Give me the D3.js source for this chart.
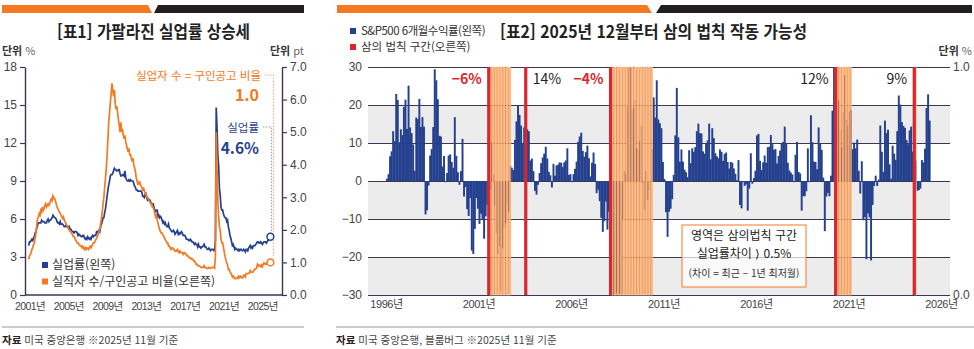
<!DOCTYPE html>
<html lang="ko">
<head>
<meta charset="utf-8">
<title>실업률과 삼의 법칙</title>
<script src="https://cdn.jsdelivr.net/npm/d3@7"></script>
<style>
body{margin:0;background:#fff;}
text{font-family:"Noto Sans CJK KR","Noto Sans",sans-serif;}
.num text, text.num{font-family:"Liberation Sans Narrow","Liberation Sans","Noto Sans CJK KR",sans-serif;}
</style>
</head>
<body>
<script>
// ---- left chart: monthly, starting Dec 2000 ----
var leftStart = [2000, 12];
var unempRate = [3.9,
 4.2,4.2,4.3,4.4,4.3,4.5,4.6,4.9,5.0,5.3,5.5,5.7,
 5.7,5.7,5.7,5.9,5.8,5.8,5.8,5.7,5.7,5.7,5.9,6.0,
 5.8,5.9,5.9,6.0,6.1,6.3,6.2,6.1,6.1,6.0,5.8,5.7,
 5.7,5.6,5.8,5.6,5.6,5.6,5.5,5.4,5.4,5.5,5.4,5.4,
 5.3,5.4,5.2,5.2,5.1,5.0,5.0,4.9,5.0,5.0,5.0,4.9,
 4.7,4.8,4.7,4.7,4.6,4.6,4.7,4.7,4.5,4.4,4.5,4.4,
 4.6,4.5,4.4,4.5,4.4,4.6,4.7,4.6,4.7,4.7,4.7,5.0,
 5.0,4.9,5.1,5.0,5.4,5.6,5.8,6.1,6.1,6.5,6.8,7.3,
 7.8,8.3,8.7,9.0,9.4,9.5,9.5,9.6,9.8,10.0,9.9,9.9,
 9.8,9.8,9.9,9.9,9.6,9.4,9.4,9.5,9.5,9.4,9.8,9.3,
 9.1,9.0,9.0,9.1,9.0,9.1,9.0,9.0,9.0,8.8,8.6,8.5,
 8.3,8.3,8.2,8.2,8.2,8.2,8.2,8.1,7.8,7.8,7.7,7.9,
 8.0,7.7,7.5,7.6,7.5,7.5,7.3,7.2,7.2,7.2,6.9,6.7,
 6.6,6.7,6.7,6.2,6.3,6.1,6.2,6.1,5.9,5.7,5.8,5.6,
 5.7,5.5,5.4,5.4,5.6,5.3,5.2,5.1,5.0,5.0,5.1,5.0,
 4.8,4.9,5.0,5.1,4.8,4.9,4.8,4.9,5.0,4.9,4.7,4.7,
 4.7,4.6,4.4,4.4,4.4,4.3,4.3,4.4,4.3,4.2,4.2,4.1,
 4.0,4.1,4.0,4.0,3.8,4.0,3.8,3.8,3.7,3.8,3.8,3.9,
 4.0,3.8,3.8,3.7,3.6,3.6,3.7,3.6,3.5,3.6,3.6,3.6,
 3.5,3.5,4.4,14.8,13.2,11.0,10.2,8.4,7.8,6.9,6.7,6.7,
 6.4,6.2,6.1,6.1,5.8,5.9,5.4,5.1,4.7,4.5,4.2,3.9,
 4.0,3.8,3.6,3.7,3.6,3.6,3.5,3.6,3.5,3.6,3.6,3.5,
 3.5,3.6,3.5,3.4,3.6,3.6,3.5,3.7,3.8,3.9,3.7,3.8,
 3.7,3.9,3.9,3.9,4.0,4.1,4.2,4.2,4.1,4.1,4.2,4.1,
 4.0,4.1,4.2,4.2,4.2,4.1,4.2,4.3,4.4,4.5,4.6];

var jobRatio = [1.1,
 1.2,1.25,1.3,1.4,1.45,1.55,1.6,1.75,1.9,2.15,2.35,2.4,
 2.5,2.45,2.6,2.55,2.7,2.6,2.65,2.75,2.8,2.7,2.75,2.8,
 2.75,2.8,2.9,2.95,2.9,3.05,3.0,2.95,2.9,2.8,2.7,2.65,
 2.6,2.55,2.5,2.45,2.4,2.35,2.4,2.3,2.25,2.2,2.15,2.1,
 2.05,2.0,1.95,1.95,1.9,1.85,1.8,1.8,1.75,1.7,1.65,1.6,
 1.6,1.55,1.55,1.5,1.5,1.45,1.5,1.45,1.4,1.45,1.4,1.45,
 1.45,1.4,1.45,1.5,1.45,1.5,1.55,1.6,1.6,1.65,1.7,1.75,
 1.8,1.85,1.95,2.0,2.2,2.35,2.55,2.8,3.0,3.3,3.6,3.9,
 4.3,4.8,5.3,5.6,5.9,6.2,6.5,6.3,6.1,6.3,5.9,5.7,
 5.8,5.6,5.4,5.2,5.0,5.3,5.0,5.1,4.9,4.8,4.9,4.7,
 4.6,4.5,4.4,4.5,4.3,4.3,4.2,4.1,4.2,4.0,3.9,3.8,
 3.6,3.5,3.4,3.4,3.5,3.4,3.35,3.3,3.2,3.3,3.2,3.1,
 3.1,3.0,3.0,2.95,2.9,2.85,2.8,2.8,2.7,2.7,2.6,2.5,
 2.4,2.45,2.3,2.2,2.1,2.0,1.95,1.9,1.9,1.85,1.8,1.75,
 1.7,1.65,1.6,1.6,1.5,1.5,1.45,1.4,1.45,1.45,1.4,1.4,
 1.35,1.35,1.35,1.4,1.35,1.3,1.35,1.3,1.3,1.3,1.25,1.3,
 1.3,1.25,1.25,1.2,1.2,1.15,1.15,1.15,1.1,1.1,1.1,1.05,
 1.05,1.0,0.95,0.95,0.9,0.9,0.9,0.87,0.85,0.85,0.85,0.85,
 0.9,0.85,0.85,0.82,0.82,0.82,0.85,0.83,0.82,0.83,0.84,0.86,
 0.86,0.83,1.18,5.0,3.9,2.9,2.4,2.1,1.95,1.7,1.6,1.6,
 1.46,1.3,1.17,1.07,0.98,0.93,0.78,0.79,0.71,0.67,0.63,0.55,
 0.58,0.55,0.5,0.5,0.52,0.54,0.51,0.58,0.54,0.58,0.55,0.52,
 0.54,0.61,0.6,0.56,0.66,0.66,0.65,0.67,0.67,0.75,0.71,0.7,
 0.69,0.74,0.76,0.8,0.8,0.83,0.94,0.89,0.92,0.9,0.87,0.92,
 0.87,0.93,0.99,0.97,0.94,0.95,1.0,1.03,1.0,1.0,1.0];
var leftYearTicks = [2001, 2005, 2009, 2013, 2017, 2021, 2025];

// ---- right chart: S&P500 6-month return, monthly from Jan 1996 ----
var rightStart = [1996, 1];
var spReturn = [
 0.6,1.8,6.5,7.8,13.1,10.5,22.9,21.3,10.2,13.6,12.1,19.5,
 21.4,13.7,25.1,14.1,12.6,9.6,2.7,16.7,16.3,21.6,14.2,16.8,
 14.3,-8.8,-7.7,-1.2,6.7,8.4,14.2,29.4,26.5,21.5,11.9,11.7,
 3.8,6.6,-0.3,2.1,6.7,7.0,5.0,3.5,16.8,6.6,2.3,-1.0,
 2.6,11.1,-4.1,-1.6,-7.4,-9.2,-4.5,-18.3,-19.2,-12.6,-4.5,-7.3,
 -11.3,-8.6,-10.3,-15.2,-9.3,-6.2,-6.7,-2.4,10.2,1.6,-6.4,-13.8,
 -19.3,-17.2,-28.9,-17.7,-12.3,-11.1,-6.1,-8.2,4.0,3.5,2.9,10.8,
 15.7,19.8,17.4,14.6,9.8,14.1,14.2,13.6,13.1,5.4,5.9,2.6,
 -2.6,-3.6,-1.0,2.1,4.7,6.2,7.2,9.0,5.9,2.4,1.5,-1.7,
 4.5,1.4,4.1,4.3,4.9,4.8,3.7,4.9,5.4,8.6,1.6,1.8,
 -0.3,1.8,3.2,5.1,10.3,11.7,12.7,7.9,6.4,7.6,9.3,6.0,
 1.2,4.8,7.5,4.5,-3.2,-2.3,-5.3,-9.7,-13.4,-10.6,-5.4,-12.8,
 -8.1,-3.6,-11.8,-30.1,-36.0,-29.4,-34.8,-42.7,-31.6,-9.9,2.6,1.8,
 19.6,38.8,32.5,18.7,19.2,21.3,8.7,8.2,10.6,14.5,-0.6,-7.6,
 2.6,-5.0,-2.4,-0.3,8.4,22.0,16.7,26.5,16.2,15.2,13.9,5.0,
 0.5,-8.2,-14.7,-8.1,-7.3,-4.8,1.6,12.0,24.5,11.5,5.1,8.3,
 5.1,3.0,2.3,1.0,8.1,4.7,8.6,7.7,8.9,13.1,15.1,12.6,
 12.5,7.8,7.2,9.9,10.7,15.1,5.7,13.9,11.3,7.3,6.5,6.0,
 8.3,7.7,5.3,7.1,7.5,5.0,3.3,5.0,4.8,3.3,1.9,0.2,
 5.5,-6.3,-7.2,-0.3,-1.3,-0.9,-7.8,-2.0,7.3,-0.7,0.8,2.7,
 12.0,12.4,5.3,2.9,4.9,6.7,4.8,8.9,9.0,12.1,9.7,8.2,
 8.4,4.6,6.6,8.0,9.8,10.3,14.3,9.8,4.8,2.8,2.2,1.7,
 -0.3,6.9,10.3,2.4,2.0,-7.8,-4.0,-4.0,-2.7,8.6,-0.3,17.3,
 10.2,5.1,5.0,3.1,14.1,9.8,8.2,0.9,-13.2,-4.1,-3.1,-4.0,
 1.4,18.5,30.1,12.3,19.0,21.2,13.5,8.9,18.1,27.9,16.1,14.4,
 18.3,18.7,8.4,10.1,8.6,10.9,2.7,-3.3,5.2,-10.3,-9.5,-20.6,
 -8.5,-9.6,-20.9,-6.3,-1.3,1.4,-1.3,0.4,14.6,7.7,2.4,15.9,
 12.6,13.5,4.4,0.6,9.3,7.2,5.6,13.1,22.5,20.1,15.5,14.5,
 14.0,10.8,9.7,13.3,14.3,7.7,9.4,5.4,-2.6,-2.4,-2.0,5.5,
 4.9,8.5,19.2,22.8,15.9];

// Sahm rule: trigger months (red) and months above threshold (orange)
var sahmTrigger = ["2001-07", "2003-07", "2008-02", "2020-04", "2024-07"];
var triggerLabel = ["−6%", "14%", "−4%", "12%", "9%"];
var sahmPeriods = [["2001-08", "2002-09"], ["2008-03", "2010-05"], ["2020-05", "2021-02"], ["2024-08", "2024-08"]];
var rightYearTicks = [1996, 2001, 2006, 2011, 2016, 2021, 2026];
var shadeBands = [[10, 20], [-10, 0], [-30, -20]];

var BLUE = "#24408e", ORANGE = "#f47920", RED = "#d7282f", AXIS = "#3e3552", TXT = "#333";

function monthT(i, start) { return start[0] + (start[1] - 1) / 12 + i / 12; }
function ym(s) { var p = s.split("-"); return +p[0] + (+p[1] - 1) / 12; }

var svg = d3.select("body").append("svg").attr("width", 974).attr("height", 349);

// ================= header bars =================
svg.append("polygon").attr("points", "2,5 148,5 152,13 2,13").attr("fill", ORANGE);
svg.append("polygon").attr("points", "158,5 304,5 304,13 154,13").attr("fill", "#231f20");
svg.append("polygon").attr("points", "337,5 647,5 652,13 337,13").attr("fill", ORANGE);
svg.append("polygon").attr("points", "661,5 972,5 972,13 656,13").attr("fill", "#231f20");

// ================= LEFT CHART =================
var xL = d3.scaleLinear().domain([2001, 2025]).range([29.5, 262.3]);
var yL = d3.scaleLinear().domain([0, 18]).range([295, 67]);
var yLr = d3.scaleLinear().domain([0, 7]).range([295, 67]);

svg.append("text").attr("x", 57).attr("y", 38)
	.attr("font-size", 17).attr("font-weight", 700).attr("fill", "#222")
	.attr("textLength", 193).attr("lengthAdjust", "spacingAndGlyphs")
	.text("[표1] 가팔라진 실업률 상승세");

var u1 = svg.append("text").attr("x", 2).attr("y", 55).attr("font-size", 11).attr("fill", TXT);
u1.append("tspan").attr("font-weight", 700).text("단위 ");
u1.append("tspan").attr("fill", "#666").text("%");
var u2 = svg.append("text").attr("x", 304).attr("y", 55).attr("font-size", 11).attr("fill", TXT).attr("text-anchor", "end");
u2.append("tspan").attr("font-weight", 700).text("단위 ");
u2.append("tspan").attr("fill", "#666").text("pt");

var axL = svg.append("g").attr("class", "num").attr("transform", "translate(25,0)")
	.call(d3.axisLeft(yL).tickValues(d3.range(0, 19, 3)).tickSize(5).tickSizeOuter(0).tickPadding(3));
var axR = svg.append("g").attr("class", "num").attr("transform", "translate(282,0)")
	.call(d3.axisRight(yLr).tickValues(d3.range(0, 8, 1)).tickFormat(d3.format(".1f")).tickSize(5).tickSizeOuter(0).tickPadding(3));
[axL, axR].forEach(function(g) {
	g.select(".domain").attr("stroke", AXIS).attr("stroke-width", 1.4);
	g.selectAll(".tick line").attr("stroke", AXIS).attr("stroke-width", 1.2);
	g.selectAll("text").attr("font-size", 12).attr("fill", "#444");
});
svg.append("line").attr("x1", 25).attr("x2", 282).attr("y1", 295).attr("y2", 295)
	.attr("stroke", AXIS).attr("stroke-width", 1.4);

var axB = svg.append("g").attr("class", "num").attr("transform", "translate(0,295)")
	.call(d3.axisBottom(xL).tickValues(leftYearTicks).tickSize(0).tickPadding(8).tickFormat(function(d) { return d + "년"; }));
axB.select(".domain").remove();
axB.selectAll("text").attr("font-size", 10.5).attr("fill", "#444").attr("letter-spacing", -0.6);

var lineU = d3.line().x(function(d, i) { return xL(monthT(i, leftStart)); }).y(function(d) { return yL(d); });
var lineJ = d3.line().x(function(d, i) { return xL(monthT(i, leftStart)); }).y(function(d) { return yLr(d); });

svg.append("path").datum(unempRate).attr("d", lineU).attr("fill", "none").attr("stroke", BLUE).attr("stroke-width", 1.7);
svg.append("path").datum(jobRatio).attr("d", lineJ).attr("fill", "none").attr("stroke", ORANGE).attr("stroke-width", 1.7);

// end points + leader lines
var nU = unempRate.length - 1, nJ = jobRatio.length - 1;
var ux = xL(monthT(nU, leftStart)), uy = yL(unempRate[nU]);
var jx = xL(monthT(nJ, leftStart)), jy = yLr(jobRatio[nJ]);

svg.append("polyline").attr("points", [[264, 75], [jx + 3, 75], [jx + 3, jy - 4]].join(" "))
	.attr("fill", "none").attr("stroke", "#f7a468").attr("stroke-width", 1).attr("stroke-dasharray", "1.5,1.5");
svg.append("polyline").attr("points", [[263, 127], [ux + 1, 127], [ux + 1, uy - 4]].join(" "))
	.attr("fill", "none").attr("stroke", "#8797c4").attr("stroke-width", 1).attr("stroke-dasharray", "1.5,1.5");

svg.append("circle").attr("cx", ux).attr("cy", uy).attr("r", 3.4).attr("fill", "#fff").attr("stroke", BLUE).attr("stroke-width", 1.5);
svg.append("circle").attr("cx", jx).attr("cy", jy).attr("r", 3.4).attr("fill", "#fff").attr("stroke", ORANGE).attr("stroke-width", 1.5);

svg.append("text").attr("x", 261).attr("y", 80).attr("text-anchor", "end").attr("font-size", 11.5)
	.attr("fill", ORANGE).text("실업자 수 = 구인공고 비율");
svg.append("text").attr("x", 259).attr("y", 101).attr("text-anchor", "end").attr("font-size", 16)
	.attr("font-weight", 700).attr("fill", ORANGE).text("1.0");
svg.append("text").attr("x", 259).attr("y", 132).attr("text-anchor", "end").attr("font-size", 11.5)
	.attr("fill", BLUE).text("실업률");
svg.append("text").attr("x", 259).attr("y", 154).attr("text-anchor", "end").attr("font-size", 15.5)
	.attr("font-weight", 700).attr("fill", BLUE).text("4.6%");

// legend
var legL = [["실업률(왼쪽)", BLUE], ["실직자 수/구인공고 비율(오른쪽)", ORANGE]];
legL.forEach(function(d, i) {
	svg.append("rect").attr("x", 42).attr("y", 262 + i * 16.5).attr("width", 6).attr("height", 6).attr("fill", d[1]);
	svg.append("text").attr("x", 52).attr("y", 269 + i * 16.5).attr("font-size", 12).attr("fill", TXT).text(d[0]);
});

// footer
svg.append("line").attr("x1", 2).attr("x2", 304).attr("y1", 327).attr("y2", 327).attr("stroke", "#999");
var f1 = svg.append("text").attr("x", 2).attr("y", 344).attr("font-size", 10.5).attr("fill", "#444");
f1.append("tspan").attr("font-weight", 700).attr("fill", "#222").text("자료 ");
f1.append("tspan").text("미국 중앙은행  ※2025년 11월 기준");

// ================= RIGHT CHART =================
var plotL = 368, plotR = 950;
var xR = d3.scaleLinear().domain([1996, 2026]).range([386, 941]);
var yR = d3.scaleLinear().domain([-30, 30]).range([295, 67]).clamp(true);
var yS = d3.scaleLinear().domain([0, 1]).range([295, 67]);
var mw = xR(1996 + 1 / 12) - xR(1996);

svg.append("text").attr("x", 500).attr("y", 38)
	.attr("font-size", 17).attr("font-weight", 700).attr("fill", "#222")
	.attr("textLength", 307).attr("lengthAdjust", "spacingAndGlyphs")
	.text("[표2] 2025년 12월부터 삼의 법칙 작동 가능성");

var legR = [["S&P500 6개월수익률(왼쪽)", BLUE], ["삼의 법칙 구간(오른쪽)", RED]];
legR.forEach(function(d, i) {
	svg.append("rect").attr("x", 350).attr("y", 28 + i * 16).attr("width", 6).attr("height", 6).attr("fill", d[1]);
	svg.append("text").attr("x", 361).attr("y", 35 + i * 16).attr("font-size", 11.5).attr("fill", TXT)
		.attr("letter-spacing", i == 0 ? -0.5 : 0).text(d[0]);
});
var u3 = svg.append("text").attr("x", 972).attr("y", 55).attr("font-size", 11).attr("fill", TXT).attr("text-anchor", "end");
u3.append("tspan").attr("font-weight", 700).text("단위 ");
u3.append("tspan").attr("fill", "#666").text("%");

svg.selectAll("rect.shade").data(shadeBands).enter().append("rect").attr("class", "shade")
	.attr("x", plotL).attr("width", plotR - plotL)
	.attr("y", function(d) { return yR(d[1]); })
	.attr("height", function(d) { return yR(d[0]) - yR(d[1]); })
	.attr("fill", "#ececec");

var grid = svg.append("g").attr("class", "num").attr("transform", "translate(" + plotL + ",0)")
	.call(d3.axisLeft(yR).tickValues(d3.range(-30, 31, 10)).tickSize(-(plotR - plotL)).tickPadding(6));
grid.select(".domain").remove();
grid.selectAll(".tick line").attr("stroke", AXIS).attr("stroke-width", 1.2);
grid.selectAll("text").attr("font-size", 12).attr("fill", "#444");

var axS = svg.append("g").attr("class", "num").attr("transform", "translate(" + plotR + ",0)")
	.call(d3.axisRight(yS).tickValues([0, 1]).tickFormat(d3.format(".1f")).tickSize(0).tickPadding(3));
axS.select(".domain").remove();
axS.selectAll("text").attr("font-size", 12).attr("fill", "#444");

// S&P bars
svg.selectAll("rect.sp").data(spReturn).enter().append("rect").attr("class", "sp")
	.attr("x", function(d, i) { return xR(monthT(i, rightStart)); })
	.attr("width", mw + 0.4)
	.attr("y", function(d) { return Math.min(yR(d), yR(0)); })
	.attr("height", function(d) { return Math.abs(yR(d) - yR(0)); })
	.attr("fill", BLUE);

// Sahm-rule months
var sahmMonths = [];
sahmPeriods.forEach(function(p) {
	for (var t = ym(p[0]); t <= ym(p[1]) + 0.001; t += 1 / 12) sahmMonths.push(t);
});
svg.selectAll("rect.sahm").data(sahmMonths).enter().append("rect").attr("class", "sahm")
	.attr("x", function(d) { return xR(d); })
	.attr("width", mw)
	.attr("y", yS(1)).attr("height", yS(0) - yS(1))
	.attr("fill", "#f47920").attr("fill-opacity", 0.72)
	.attr("stroke", "#fcd2ad").attr("stroke-width", 0.5);

svg.selectAll("rect.trig").data(sahmTrigger).enter().append("rect").attr("class", "trig")
	.attr("x", function(d) { return xR(ym(d)) - 0.6; })
	.attr("width", 3.2)
	.attr("y", yS(1)).attr("height", yS(0) - yS(1))
	.attr("fill", RED);

svg.selectAll("text.trig").data(sahmTrigger).enter().append("text").attr("class", "trig")
	.attr("x", function(d, i) { return i == 1 ? xR(ym(d)) + 8 : xR(ym(d)) - 6; })
	.attr("y", 84)
	.attr("text-anchor", function(d, i) { return i == 1 ? "start" : "end"; })
	.attr("font-size", 14)
	.attr("font-weight", function(d, i) { return triggerLabel[i][0] == "−" ? 700 : 400; })
	.attr("fill", function(d, i) { return triggerLabel[i][0] == "−" ? RED : "#222"; })
	.text(function(d, i) { return triggerLabel[i]; });

var axRB = svg.append("g").attr("class", "num").attr("transform", "translate(0,295)")
	.call(d3.axisBottom(xR).tickValues(rightYearTicks).tickSize(0).tickPadding(5).tickFormat(function(d) { return d + "년"; }));
axRB.select(".domain").remove();
axRB.selectAll("text").attr("font-size", 11).attr("fill", "#444").attr("letter-spacing", -0.4);

// note box
svg.append("rect").attr("x", 682).attr("y", 225).attr("width", 124).attr("height", 62)
	.attr("fill", "#fff").attr("fill-opacity", 0.7).attr("stroke", ORANGE).attr("stroke-width", 1);
svg.append("text").attr("x", 744).attr("y", 240).attr("text-anchor", "middle").attr("font-size", 12).attr("fill", "#222").text("영역은 삼의법칙 구간");
svg.append("text").attr("x", 744).attr("y", 258).attr("text-anchor", "middle").attr("font-size", 12).attr("fill", "#222").text("실업률차이 ⟩ 0.5%");
svg.append("text").attr("x", 744).attr("y", 277).attr("text-anchor", "middle").attr("font-size", 10).attr("fill", "#333").text("(차이 = 최근 – 1년 최저월)");

// footer
svg.append("line").attr("x1", 336).attr("x2", 974).attr("y1", 327).attr("y2", 327).attr("stroke", "#999");
var f2 = svg.append("text").attr("x", 336).attr("y", 344).attr("font-size", 10.5).attr("fill", "#444");
f2.append("tspan").attr("font-weight", 700).attr("fill", "#222").text("자료 ");
f2.append("tspan").text("미국 중앙은행, 블룸버그  ※2025년 11월 기준");
</script>
</body>
</html>
